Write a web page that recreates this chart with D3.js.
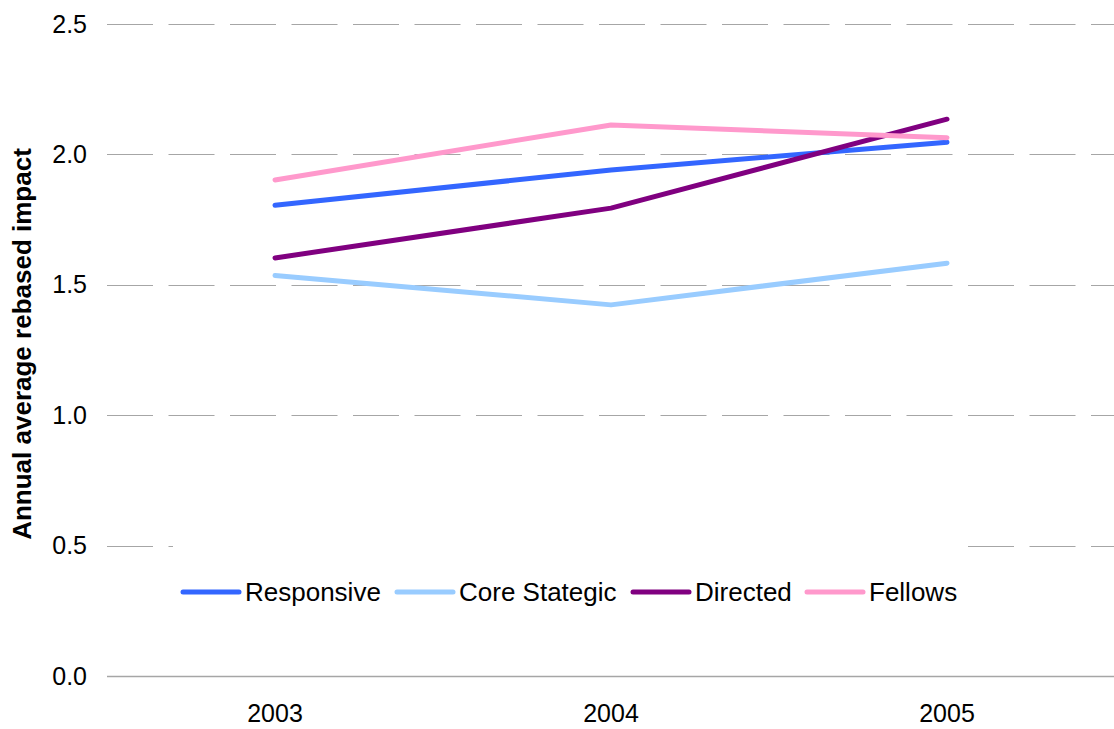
<!DOCTYPE html>
<html>
<head>
<meta charset="utf-8">
<script src="https://cdn.jsdelivr.net/npm/d3@7"></script>
<style>
  html, body { margin: 0; padding: 0; background: #fff; }
  svg { display: block; font-family: "Liberation Sans", Arial, sans-serif; }
</style>
</head>
<body>
<svg id="chart" width="1114" height="729"></svg>
<script>
// Annual average rebased impact by scheme, 2003–2005
const years = ["2003", "2004", "2005"];
const responsive = [1.805, 1.94, 2.047];
const coreStrategic = [1.536, 1.423, 1.583];
const directed = [1.603, 1.794, 2.135];
const fellows = [1.902, 2.113, 2.064];
const yTicks = [0, 0.5, 1.0, 1.5, 2.0, 2.5];

const series = [
  { name: "Responsive", values: responsive, color: "#3366FF" },
  { name: "Core Stategic", values: coreStrategic, color: "#99CCFF" },
  { name: "Directed", values: directed, color: "#800080" },
  { name: "Fellows", values: fellows, color: "#FF99CC" }
];

const svg = d3.select("#chart");
const plot = { left: 107, right: 1115, top: 24, bottom: 676 };

const x = d3.scaleBand().domain(years).range([plot.left, plot.right]);
const y = d3.scaleLinear().domain([0, 2.5]).range([plot.bottom, plot.top]);

// dashed horizontal gridlines
svg.append("g")
  .selectAll("line")
  .data(yTicks.filter(d => d > 0))
  .join("line")
  .attr("x1", plot.left).attr("x2", plot.right)
  .attr("y1", d => Math.round(y(d)) + 0.5).attr("y2", d => Math.round(y(d)) + 0.5)
  .attr("stroke", "#a6a6a6")
  .attr("stroke-width", 1.2)
  .attr("stroke-dasharray", "46 15.5");

// y axis labels
const yAxis = svg.append("g")
  .attr("transform", `translate(${plot.left},0)`)
  .call(d3.axisLeft(y).tickValues(yTicks).tickFormat(d3.format(".1f")).tickSize(0).tickPadding(20));
yAxis.select(".domain").remove();
yAxis.selectAll("text").attr("font-size", 25).attr("fill", "#000")
  .attr("font-family", "'Liberation Sans', Arial, sans-serif");

// x axis
const xAxis = svg.append("g")
  .attr("transform", `translate(0,${plot.bottom})`)
  .call(d3.axisBottom(x).tickSize(0).tickPadding(28));
xAxis.select(".domain").attr("stroke", "#a6a6a6").attr("stroke-width", 1.5)
  .attr("d", `M${plot.left},0.5H${plot.right}`);
xAxis.selectAll("text").attr("font-size", 25).attr("fill", "#000")
  .attr("font-family", "'Liberation Sans', Arial, sans-serif");

// y axis title
svg.append("text")
  .attr("transform", `translate(31,344) rotate(-90)`)
  .attr("text-anchor", "middle")
  .attr("font-size", 26)
  .attr("font-weight", "bold")
  .text("Annual average rebased impact");

// series lines
const line = d3.line()
  .x((d, i) => x(years[i]) + x.bandwidth() / 2)
  .y(d => y(d));

svg.append("g")
  .selectAll("path")
  .data(series)
  .join("path")
  .attr("d", d => line(d.values))
  .attr("fill", "none")
  .attr("stroke", d => d.color)
  .attr("stroke-width", 5)
  .attr("stroke-linecap", "round")
  .attr("stroke-linejoin", "round");

// legend
const legend = svg.append("g");
legend.append("rect")
  .attr("x", 173).attr("y", 540).attr("width", 794).attr("height", 100)
  .attr("fill", "#fff");
const legendX = [183, 397, 633, 807];
const item = legend.selectAll("g.item")
  .data(series)
  .join("g")
  .attr("class", "item")
  .attr("transform", (d, i) => `translate(${legendX[i]},592)`);
item.append("line")
  .attr("x1", 0).attr("x2", 56)
  .attr("stroke", d => d.color)
  .attr("stroke-width", 5)
  .attr("stroke-linecap", "round");
item.append("text")
  .attr("x", 62).attr("dy", "0.36em")
  .attr("font-size", 26)
  .text(d => d.name);
</script>
</body>
</html>
